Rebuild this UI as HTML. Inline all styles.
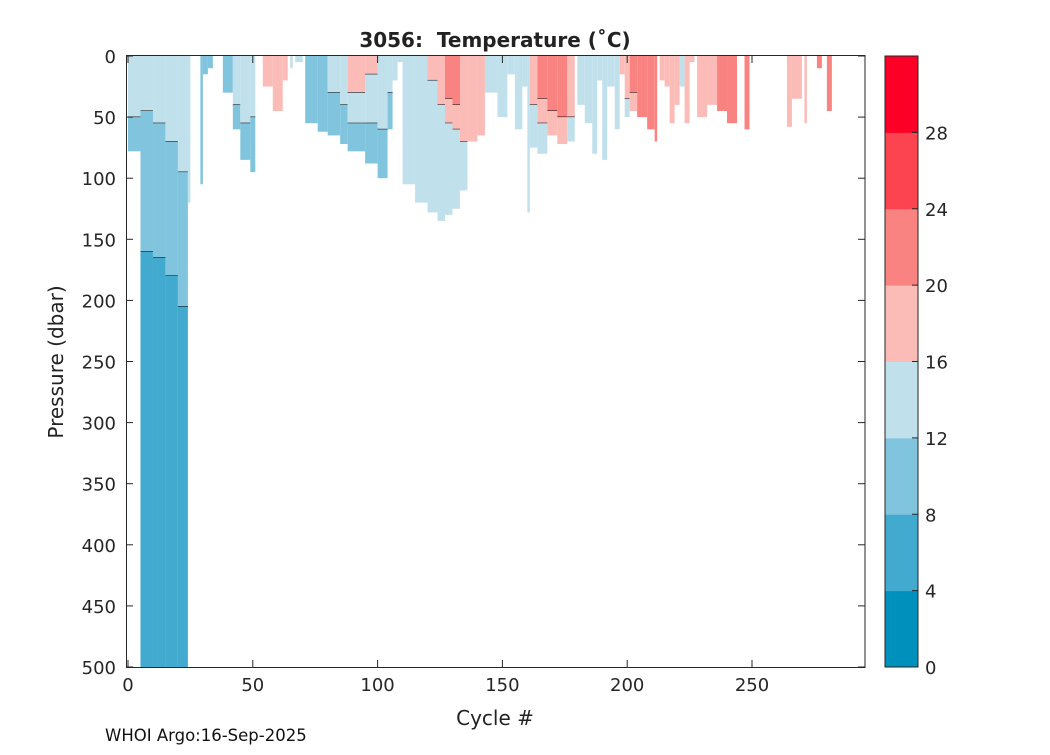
<!DOCTYPE html>
<html><head><meta charset="utf-8"><style>
body{margin:0;background:#fff;width:1050px;height:750px;overflow:hidden}
svg{font-family:"DejaVu Sans","Liberation Sans",sans-serif}
</style></head><body>
<svg id="c" width="1050" height="750" xmlns="http://www.w3.org/2000/svg">
<rect width="1050" height="750" fill="#fff"/>
<text x="495" y="47" font-size="20" font-weight="bold" text-anchor="middle" fill="#222">3056:&#160; Temperature (˚C)</text>
<g id="plot"></g>
<g id="axes"></g>
<g id="cbar"></g>
<text x="495" y="725" font-size="20" text-anchor="middle" fill="#222">Cycle #</text>
<text transform="translate(63,362) rotate(-90)" font-size="20" text-anchor="middle" fill="#222">Pressure (dbar)</text>
<text x="105" y="741" font-size="16.5" fill="#111">WHOI Argo:16-Sep-2025</text>
</svg>
<script>
const bandColors=["#0090bc","#42aacf","#80c4de","#c0e1ec","#fbbcb8","#f98380","#fb4450","#fc0028"];
const cbarTicks=[4,8,12,16,20,24,28];
const xTicks=[0,50,100,150,200,250];
const yTicks=[0,50,100,150,200,250,300,350,400,450,500];
const segStart=[0,5,10,15,20,24,29,30,32,38,42,45,49,54,58,62,65,67,71,76,80,85,88,95,100,104,106,108,110,115,120,124,127,130,133,136,140,143,148,152,155,158,160,161,164,168,172,176,180,183,186,188,190,192,195,197,199,201,204,208,211,213,215,217,219,221,223,225,228,232,236,240,247,264,266,271,276,280];
const segEnd=[5,10,15,20,24,25,30,32,34,42,45,49,51,58,62,64,66,70,76,80,85,88,95,100,104,106,108,110,115,120,124,127,130,133,136,140,143,148,152,155,158,160,161,164,168,172,176,179,183,186,188,190,192,195,197,199,201,204,208,211,212,215,217,219,221,223,225,227,232,236,240,244,249,266,270,272,278,282];
const segLayers=[
[[3,50],[2,78]],[[3,45],[2,160],[1,500]],[[3,55],[2,165],[1,500]],[[3,70],[2,180],[1,500]],[[3,95],[2,205],[1,500]],[[3,120]],
[[2,105]],[[2,15]],[[2,10]],[[2,30]],[[3,40],[2,60]],[[3,55],[2,85]],[[3,50],[2,95]],
[[4,25]],[[4,45]],[[4,20]],[[3,10]],[[3,5]],[[2,55]],[[2,62]],[[3,30],[2,65]],[[3,40],[2,72]],[[4,30],[3,55],[2,78]],[[4,15],[3,55],[2,88]],[[3,60],[2,100]],[[3,30],[2,60]],[[3,20]],[[3,5]],
[[3,105]],[[3,120]],[[4,20],[3,128]],[[4,40],[3,135]],[[5,35],[4,55],[3,130]],[[5,40],[4,60],[3,125]],[[4,70],[3,110]],[[4,70]],[[4,65]],
[[3,30]],[[3,50]],[[3,15]],[[3,60]],[[3,25]],[[3,128]],
[[4,40],[3,75]],[[5,35],[4,55],[3,80]],[[5,45],[4,65]],[[5,50],[4,72]],[[4,50],[3,70]],
[[3,40]],[[3,55]],[[3,80]],[[3,20]],[[3,85]],[[3,25]],[[3,60]],[[4,15]],
[[4,35],[3,50]],[[5,30],[4,45]],[[5,50]],[[5,60]],[[5,70]],
[[4,20]],[[4,25]],[[4,55]],[[4,40]],[[3,25]],[[4,55]],[[4,5]],[[4,50]],[[4,40]],[[5,45]],[[5,55]],[[5,60]],
[[4,58]],[[4,35]],[[4,55]],[[5,10]],[[5,45]]
];
const NS="http://www.w3.org/2000/svg";
const L=128,T=56,B=667,R=865;
const xs=c=>L+c*2.496;
const ys=p=>T+p*(B-T)/500;
function mk(tag,attrs,parent){const e=document.createElementNS(NS,tag);for(const k in attrs)e.setAttribute(k,attrs[k]);parent.appendChild(e);return e;}
const plot=document.getElementById('plot');
segStart.forEach((s,i)=>{
  let top=0;
  segLayers[i].forEach(([b,d],j)=>{
    const r=mk('rect',{x:xs(s),y:ys(top),width:xs(segEnd[i])-xs(s),height:ys(d)-ys(top),fill:bandColors[b]},plot);
    
    
    if(j<segLayers[i].length-1){
      const ln=mk('line',{x1:xs(s),x2:xs(segEnd[i]),y1:ys(d),y2:ys(d),stroke:'#000','stroke-width':1},plot);
      
      
    }
    top=d;
  });
});
const ax=document.getElementById('axes');
const fr=mk('rect',{x:126.5,y:T-0.5,width:R-126.5,height:B-T+1,fill:'none',stroke:'#262626','stroke-width':1},ax);


xTicks.forEach(t=>{
  const x=xs(t);
  mk('line',{x1:x,x2:x,y1:B,y2:B-7,stroke:'#262626'},ax);
  mk('line',{x1:x,x2:x,y1:T,y2:T+7,stroke:'#262626'},ax);
  const tx=mk('text',{x:x,y:B+24,'font-size':18,'text-anchor':'middle',fill:'#262626'},ax);
  tx.textContent=t;
  
  
});
yTicks.forEach(t=>{
  const y=ys(t);
  mk('line',{x1:126.5,x2:133,y1:y,y2:y,stroke:'#262626'},ax);
  mk('line',{x1:R,x2:R-7,y1:y,y2:y,stroke:'#262626'},ax);
  const tx=mk('text',{x:116,y:y+7,'font-size':18,'text-anchor':'end',fill:'#262626'},ax);
  tx.textContent=t;
  
  
});
const cb=document.getElementById('cbar');
const cbY=v=>B-v*(B-T)/32;
bandColors.forEach((c,i)=>{
  const r=mk('rect',{x:885,y:cbY((i+1)*4),width:33,height:cbY(i*4)-cbY((i+1)*4)+0.5,fill:c},cb);
  
  
});
mk('rect',{x:885,y:T,width:33,height:B-T,fill:'none',stroke:'#262626'},cb);
[0].concat(cbarTicks).forEach(t=>{
  const y=cbY(t);
  if(t>0)mk('line',{x1:912,x2:918,y1:y,y2:y,stroke:'#262626'},cb);
  const tx=mk('text',{x:925,y:y+7,'font-size':18,fill:'#262626'},cb);
  tx.textContent=t;
  
  
});
</script>
</body></html>
